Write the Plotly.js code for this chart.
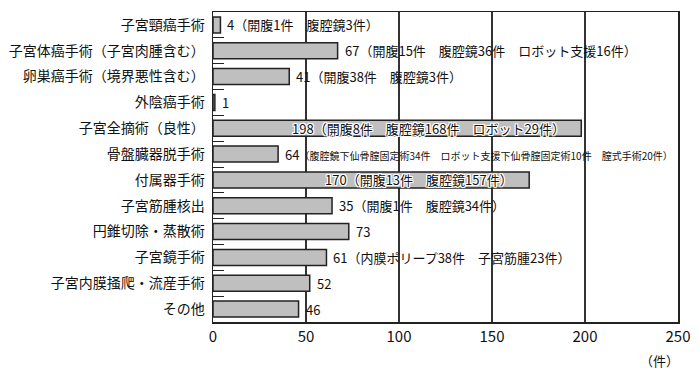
<!DOCTYPE html>
<html><head><meta charset="utf-8">
<script src="https://cdn.plot.ly/plotly-3.0.1.min.js"></script>
<style>body{margin:0;background:#fff}#c{width:700px;height:381px}</style>
</head><body><div id="c"></div>
<script>
const categories = ["子宮頸癌手術","子宮体癌手術（子宮肉腫含む）","卵巣癌手術（境界悪性含む）","外陰癌手術","子宮全摘術（良性）","骨盤臓器脱手術","付属器手術","子宮筋腫核出","円錐切除・蒸散術","子宮鏡手術","子宮内膜掻爬・流産手術","その他"];
// bar lengths as drawn in the picture
const barLengths = [4,67,41,1,198,35,170,64,73,61,52,46];
// counts printed in the labels
const labelCounts = [4,67,41,1,198,64,170,35,73,61,52,46];
const details = ["（開腹1件　腹腔鏡3件）","（開腹15件　腹腔鏡36件　ロボット支援16件）","（開腹38件　腹腔鏡3件）","","（開腹8件　腹腔鏡168件　ロボット29件）","（腹腔鏡下仙骨膣固定術34件　ロボット支援下仙骨膣固定術10件　膣式手術20件）","（開腹13件　腹腔鏡157件）","（開腹1件　腹腔鏡34件）","","（内膜ポリープ38件　子宮筋腫23件）","",""];
const xTicks = [0,50,100,150,200,250];
const unitLabel = "（件）";

const FONT = "'Noto Sans CJK JP', 'Noto Sans', sans-serif";
const halo = "1px 1px 0 #fff, -1px -1px 0 #fff, 1px -1px 0 #fff, -1px 1px 0 #fff, 0 1px 0 #fff, 0 -1px 0 #fff, 1px 0 0 #fff, -1px 0 0 #fff";

const annotations = categories.map((c, i) => {
  const long = details[i].length > 30;
  const txt = long ? labelCounts[i] + '<span style="font-size:10px">' + details[i] + '</span>' : labelCounts[i] + details[i];
  const inside = barLengths[i] > 150;
  return {
    x: barLengths[i], y: c, xref: 'x', yref: 'y', text: txt, showarrow: false,
    xanchor: inside ? 'right' : 'left', xshift: inside ? -14 : 5,
    font: {family: FONT, size: 13, color: '#111', shadow: inside ? halo : 'none'}
  };
});
annotations.push({x: 1, y: 0, xref: 'paper', yref: 'paper', xanchor: 'right', yanchor: 'top', yshift: -27, xshift: 3,
  text: unitLabel, showarrow: false, font: {family: FONT, size: 13, color: '#111'}});

Plotly.newPlot('c', [{
  type: 'bar', orientation: 'h', x: barLengths, y: categories,
  marker: {color: '#bfbfbf', line: {color: '#222', width: 1.5}},
  width: 0.62, hoverinfo: 'none'
}], {
  width: 700, height: 381,
  margin: {l: 213, r: 22, t: 12, b: 59},
  paper_bgcolor: '#fff', plot_bgcolor: '#fff',
  showlegend: false,
  font: {family: FONT, color: '#111'},
  xaxis: {range: [0, 250], tickmode: 'array', tickvals: xTicks, ticktext: xTicks.map(String),
    showgrid: true, gridcolor: '#333333', gridwidth: 1.2,
    showline: true, linecolor: '#222', linewidth: 1.5, mirror: true, zeroline: false,
    ticks: 'outside', ticklen: 0, tickcolor: '#fff',
    tickfont: {family: FONT, size: 15, color: '#111'}},
  yaxis: {type: 'category', autorange: 'reversed', showline: true, linecolor: '#222', linewidth: 1.5, mirror: true,
    ticks: 'inside', tickson: 'boundaries', ticklen: 11, tickcolor: '#222', tickwidth: 1,
    showgrid: false, tickfont: {family: FONT, size: 14, color: '#111'}, ticklabelstandoff: 4},
  annotations: annotations
}, {staticPlot: true});
</script></body></html>
